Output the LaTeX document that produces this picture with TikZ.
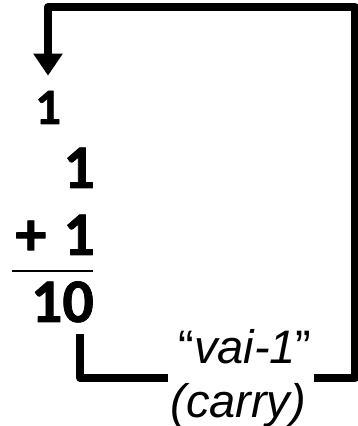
\documentclass[tikz,border=0pt]{standalone}
\usepackage{fontspec}
\setmainfont{Liberation Sans}
\newfontfamily\digitfont{Carlito}[BoldFeatures={FakeBold=1.2}]
\usetikzlibrary{arrows.meta}
\begin{document}
\begin{tikzpicture}[x=1pt,y=1pt,line join=round,
  digit/.style={font=\digitfont\bfseries\fontsize{62}{62}\selectfont,inner sep=0pt,anchor=base east},
  smalldigit/.style={font=\digitfont\bfseries\fontsize{51}{51}\selectfont,inner sep=0pt,anchor=base},
  wire/.style={line width=8pt}]
  \useasboundingbox (0,0) rectangle (357,426);
  % carried digit, the sum and its result
  \node[smalldigit] (carried) at (48,302) {1};
  \node[digit] (topnum) at (95,238) {1};
  \node[digit] (botnum) at (95,171) {+\hspace{3pt} 1};
  \node[digit] (result) at (94,104) {10};
  \draw[line width=2.5pt] (12,155) -- (93,155);
  % carry path
  \node[font=\itshape\fontsize{47}{54}\selectfont,align=left,inner xsep=2pt,inner ysep=0pt] (carry) at (241,48)
    {\hspace*{8pt}{\upshape “}vai-1{\upshape ”}\\(carry)};
  \coordinate (drop) at ([xshift=18pt,yshift=-11pt]result.south);
  \coordinate (corner) at (355,419);
  \draw[wire] (drop) |- (carry.west);
  \draw[wire,-{Triangle[width=28pt,length=22pt]}] (carry.east) -| (corner) -| ([yshift=15pt]carried.north);
\end{tikzpicture}
\end{document}
